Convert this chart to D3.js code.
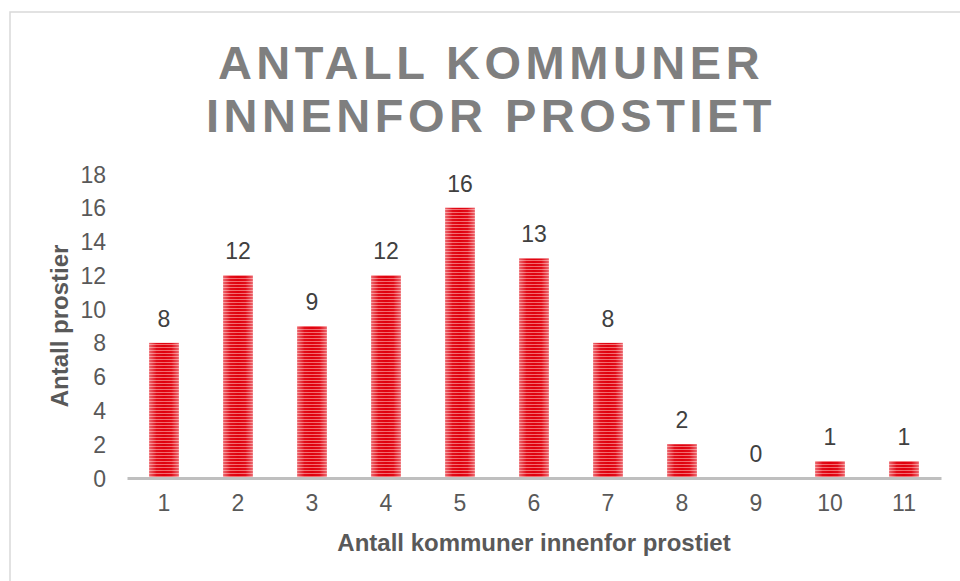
<!DOCTYPE html>
<meta charset="utf-8">
<style>
    body { margin: 0; background: #fff; }
    svg { font-family: "Liberation Sans", Arial, sans-serif; }
    .tick text { fill: #595959; font-size: 23px; }
    .lbl { fill: #404040; font-size: 23px; }
    .axtitle { fill: #595959; font-size: 24px; font-weight: bold; }
    .title { fill: #7f7f7f; font-size: 47px; font-weight: bold; letter-spacing: 4.5px; }
</style>

<svg width="960" height="581"></svg>

<script src="https://d3js.org/d3.v7.min.js"></script>

<script>
// values
var categories = ["1", "2", "3", "4", "5", "6", "7", "8", "9", "10", "11"];
var counts = [8, 12, 9, 12, 16, 13, 8, 2, 0, 1, 1];
var yTicks = [0, 2, 4, 6, 8, 10, 12, 14, 16, 18];
var titleLines = ["ANTALL KOMMUNER", "INNENFOR PROSTIET"];

var svg = d3.select("svg");

// frame
svg.append("rect")
    .attr("x", 10).attr("y", 12)
    .attr("width", 960).attr("height", 600)
    .attr("fill", "none")
    .attr("stroke", "#d9d9d9")
    .attr("stroke-width", 1.5);

var defs = svg.append("defs");

// striped fill
var pat = defs.append("pattern")
    .attr("id", "stripes")
    .attr("patternUnits", "userSpaceOnUse")
    .attr("width", 4).attr("height", 3);
pat.append("rect").attr("width", 4).attr("height", 3).attr("fill", "#f26a6e");
pat.append("rect").attr("width", 4).attr("height", 2).attr("fill", "#e0000d");

// light edges, darker middle
var grad = defs.append("linearGradient")
    .attr("id", "shine")
    .attr("x1", 0).attr("x2", 1).attr("y1", 0).attr("y2", 0);
grad.append("stop").attr("offset", "0%").attr("stop-color", "#fff").attr("stop-opacity", 0.4);
grad.append("stop").attr("offset", "25%").attr("stop-color", "#fff").attr("stop-opacity", 0.05);
grad.append("stop").attr("offset", "50%").attr("stop-color", "#fff").attr("stop-opacity", 0);
grad.append("stop").attr("offset", "75%").attr("stop-color", "#fff").attr("stop-opacity", 0.05);
grad.append("stop").attr("offset", "100%").attr("stop-color", "#fff").attr("stop-opacity", 0.4);

var x = d3.scaleBand()
    .domain(categories)
    .range([127, 941])
    .paddingInner(0.6)
    .paddingOuter(0.3);

var y = d3.scaleLinear()
    .domain([0, 18])
    .range([478, 174]);

// title
svg.append("text")
    .attr("class", "title")
    .attr("text-anchor", "middle")
    .selectAll("tspan")
    .data(titleLines)
    .enter()
    .append("tspan")
    .attr("x", 491)
    .attr("y", function(d, i) { return 79 + i * 53; })
    .text(function(d) { return d; });

// y axis (labels only)
var yAxis = svg.append("g")
    .attr("transform", "translate(106,0)")
    .call(d3.axisLeft(y).tickValues(yTicks).tickSize(0).tickPadding(0));
yAxis.select(".domain").remove();
yAxis.selectAll("text").attr("dy", "0.35em");

// bars
var bars = svg.append("g");
bars.selectAll("rect.bar")
    .data(counts)
    .enter()
    .append("rect")
    .attr("class", "bar")
    .attr("x", function(d, i) { return x(categories[i]); })
    .attr("y", function(d) { return y(d); })
    .attr("width", x.bandwidth())
    .attr("height", function(d) { return y(0) - y(d); })
    .attr("fill", "url(#stripes)");
bars.selectAll("rect.shine")
    .data(counts)
    .enter()
    .append("rect")
    .attr("class", "shine")
    .attr("x", function(d, i) { return x(categories[i]); })
    .attr("y", function(d) { return y(d); })
    .attr("width", x.bandwidth())
    .attr("height", function(d) { return y(0) - y(d); })
    .attr("fill", "url(#shine)");

// x axis
var xAxis = svg.append("g")
    .attr("transform", "translate(0," + y(0) + ")")
    .call(d3.axisBottom(x).tickSize(0).tickPadding(17));
xAxis.select(".domain")
    .attr("stroke", "#bfbfbf")
    .attr("stroke-width", 3);

// value labels
svg.append("g")
    .selectAll("text")
    .data(counts)
    .enter()
    .append("text")
    .attr("class", "lbl")
    .attr("text-anchor", "middle")
    .attr("x", function(d, i) { return x(categories[i]) + x.bandwidth() / 2; })
    .attr("y", function(d) { return y(d) - 16; })
    .text(function(d) { return d; });

// axis titles
svg.append("text")
    .attr("class", "axtitle")
    .attr("text-anchor", "middle")
    .attr("x", 534)
    .attr("y", 551)
    .text("Antall kommuner innenfor prostiet");

svg.append("text")
    .attr("class", "axtitle")
    .attr("text-anchor", "middle")
    .attr("transform", "translate(68,326) rotate(-90)")
    .text("Antall prostier");
</script>
